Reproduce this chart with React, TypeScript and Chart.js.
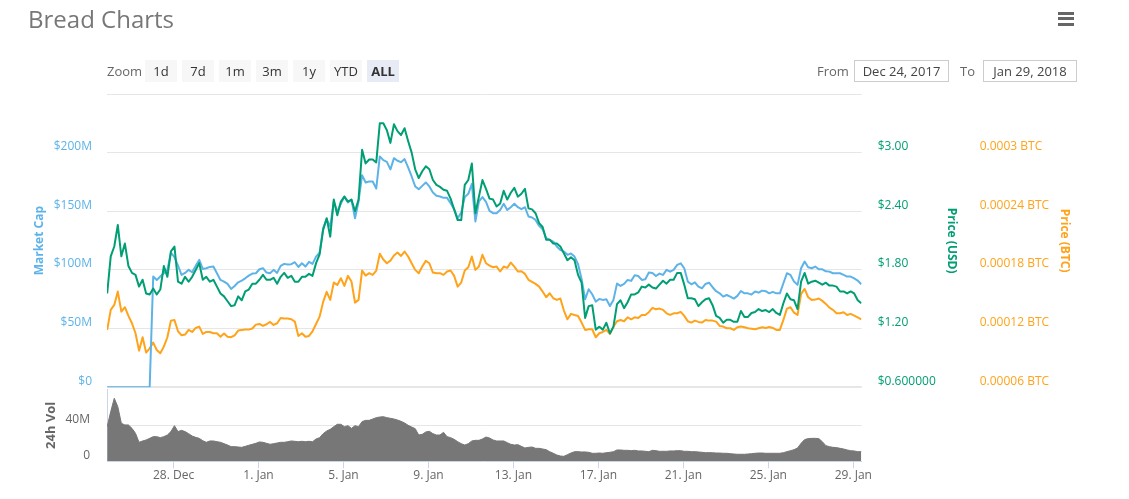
import React, { useEffect, useRef } from 'react';
import { Chart, registerables } from 'chart.js';

Chart.register(...registerables);
Chart.defaults.font.family = "'Open Sans', 'DejaVu Sans', sans-serif";

// time axis: days since Dec 24 2017 00:00
const SAMPLE_START_DAY = 0.875; // Dec 24 21:00
const SAMPLE_STEP_DAYS = 1 / 6; // 4 hours
const X_MIN = 0.866;
const X_MAX = 36.395;

const xTickDays = [4, 8, 12, 16, 20, 24, 28, 32, 36];
const xTickLabels = ['28. Dec', '1. Jan', '5. Jan', '9. Jan', '13. Jan', '17. Jan', '21. Jan', '25. Jan', '29. Jan'];

const capTicks = [0, 50, 100, 150, 200, 250];
const capTickLabels = ['$0', '$50M', '$100M', '$150M', '$200M', ''];
const usdTicks = [0.6, 1.2, 1.8, 2.4, 3.0, 3.6];
const usdTickLabels = ['$0.600000', '$1.20', '$1.80', '$2.40', '$3.00', ''];
const btcTicks = [60, 120, 180, 240, 300, 360]; // micro-BTC
const btcTickLabels = ['0.00006 BTC', '0.00012 BTC', '0.00018 BTC', '0.00024 BTC', '0.0003 BTC', ''];
const volTicks = [0, 40, 80];
const volTickLabels = ['0', '40M', ''];

const zoomButtons = ['1d', '7d', '1m', '3m', '1y', 'YTD', 'ALL'];
const fromDate = 'Dec 24, 2017';
const toDate = 'Jan 29, 2018';

// Market cap, $M
const marketCapM = [
  0, 0, 0, 0, 0, 0, 0, 0, 0, 0,
  0, 0, 0, 94.4, 91.5, 94.4, 97.2, 100.1, 114.8, 110.9,
  103.8, 95.8, 97.5, 100.1, 98.1, 103.5, 108.6, 100.9, 101.5, 102.6,
  102.9, 97.2, 91.5, 90.1, 88.1, 83.8, 86.4, 89.5, 91.0, 92.9,
  95.2, 96.9, 97.2, 100.6, 101.5, 97.8, 97.2, 100.1, 97.5, 103.5,
  105.2, 104.6, 104.9, 106.6, 102.6, 105.7, 102.9, 106.9, 105.2, 111.4,
  114.8, 135.6, 143.3, 137.0, 158.4, 149.8, 156.4, 162.6, 157.5, 159.8,
  144.1, 158.4, 180.8, 174.6, 175.4, 175.4, 169.4, 196.8, 193.6, 192.2,
  185.7, 195.3, 193.1, 191.9, 194.5, 187.4, 179.7, 171.2, 168.9, 171.7,
  174.6, 171.2, 166.0, 163.2, 162.6, 161.5, 161.5, 156.9, 151.8, 144.1,
  149.0, 162.1, 164.9, 173.4, 141.3, 158.4, 162.1, 158.1, 150.4, 148.4,
  148.4, 151.2, 156.4, 151.2, 153.5, 156.4, 153.5, 151.8, 153.5, 145.6,
  144.7, 142.7, 137.6, 134.8, 127.1, 125.7, 124.2, 120.0, 117.1, 115.7,
  112.9, 114.0, 111.4, 104.9, 92.4, 75.0, 83.6, 79.3, 73.0, 75.3,
  74.5, 75.0, 69.3, 74.5, 88.4, 86.4, 88.1, 91.5, 90.7, 95.5,
  94.9, 91.5, 92.1, 97.8, 97.5, 94.9, 96.9, 95.8, 100.1, 98.6,
  100.1, 104.3, 105.7, 101.5, 90.1, 87.8, 89.5, 85.8, 84.4, 88.1,
  89.2, 85.3, 81.9, 80.1, 77.3, 78.7, 77.3, 75.6, 77.9, 82.1,
  80.1, 80.1, 79.0, 81.6, 80.7, 82.4, 81.9, 80.1, 81.3, 80.1,
  80.1, 88.7, 97.2, 95.8, 90.1, 87.3, 101.5, 107.2, 102.3, 101.5,
  102.9, 100.6, 100.6, 98.9, 98.6, 97.2, 97.2, 97.2, 95.8, 94.4,
  94.4, 92.9, 91.0, 87.8,
];

// Price, USD
const priceUsd = [
  1.56, 1.94, 2.04, 2.26, 1.94, 2.07, 1.84, 1.77, 1.75, 1.63,
  1.70, 1.56, 1.55, 1.61, 1.55, 1.60, 1.84, 1.73, 1.99, 2.04,
  1.68, 1.66, 1.73, 1.68, 1.73, 1.80, 1.87, 1.70, 1.73, 1.68,
  1.70, 1.63, 1.56, 1.53, 1.48, 1.43, 1.44, 1.53, 1.49, 1.58,
  1.60, 1.66, 1.66, 1.70, 1.75, 1.70, 1.70, 1.72, 1.66, 1.73,
  1.77, 1.72, 1.74, 1.68, 1.68, 1.73, 1.73, 1.76, 1.74, 1.87,
  1.96, 2.21, 2.33, 2.14, 2.52, 2.36, 2.50, 2.55, 2.50, 2.52,
  2.40, 2.52, 3.03, 2.89, 2.93, 2.93, 2.90, 3.30, 3.30, 3.23,
  3.10, 3.29, 3.22, 3.18, 3.25, 3.12, 3.00, 2.83, 2.74, 2.81,
  2.86, 2.83, 2.72, 2.67, 2.65, 2.62, 2.61, 2.53, 2.42, 2.31,
  2.31, 2.67, 2.72, 2.89, 2.38, 2.55, 2.72, 2.63, 2.53, 2.52,
  2.45, 2.48, 2.61, 2.52, 2.59, 2.64, 2.55, 2.58, 2.63, 2.43,
  2.42, 2.38, 2.28, 2.24, 2.11, 2.11, 2.07, 2.07, 2.04, 1.97,
  1.90, 1.93, 1.90, 1.75, 1.67, 1.31, 1.43, 1.44, 1.19, 1.22,
  1.19, 1.26, 1.15, 1.22, 1.45, 1.49, 1.41, 1.47, 1.55, 1.55,
  1.57, 1.63, 1.62, 1.65, 1.62, 1.61, 1.65, 1.69, 1.66, 1.70,
  1.70, 1.77, 1.77, 1.65, 1.51, 1.51, 1.50, 1.43, 1.47, 1.50,
  1.51, 1.44, 1.33, 1.31, 1.26, 1.29, 1.29, 1.27, 1.27, 1.38,
  1.32, 1.32, 1.36, 1.37, 1.40, 1.38, 1.39, 1.37, 1.40, 1.36,
  1.34, 1.46, 1.56, 1.50, 1.49, 1.40, 1.68, 1.77, 1.66, 1.68,
  1.69, 1.67, 1.65, 1.67, 1.64, 1.64, 1.63, 1.58, 1.58, 1.56,
  1.58, 1.56, 1.49, 1.46,
];

// Price, micro-BTC (1e-6 BTC)
const priceBtcMicro = [
  118.7, 139.2, 144.3, 157.9, 137.4, 141.9, 133.0, 125.5, 115.3, 97.5,
  111.2, 95.5, 99.9, 105.7, 98.2, 94.8, 101.6, 111.2, 128.2, 128.9,
  117.3, 113.2, 113.9, 118.7, 116.6, 120.7, 122.1, 114.6, 116.6, 116.6,
  115.3, 115.3, 111.8, 115.0, 111.8, 111.2, 113.2, 118.0, 118.7, 119.0,
  119.0, 120.1, 124.1, 124.8, 122.8, 124.5, 126.9, 123.8, 125.5, 130.9,
  130.3, 130.3, 129.6, 127.2, 112.5, 115.3, 111.8, 112.5, 117.3, 124.8,
  132.3, 147.3, 157.6, 149.4, 167.1, 164.7, 171.6, 163.7, 174.0, 168.2,
  146.6, 149.4, 179.4, 174.3, 176.7, 175.0, 179.4, 196.5, 190.7, 186.9,
  189.6, 194.8, 197.8, 194.4, 198.9, 193.8, 186.9, 180.1, 176.7, 183.5,
  189.3, 186.9, 177.4, 176.7, 176.7, 175.0, 178.4, 179.4, 174.0, 163.0,
  167.1, 179.4, 182.8, 193.8, 180.1, 183.5, 195.5, 186.9, 184.5, 182.8,
  183.5, 178.4, 183.5, 182.2, 187.6, 183.5, 178.4, 178.7, 176.0, 169.9,
  167.8, 165.8, 163.0, 157.9, 152.1, 156.2, 151.1, 149.4, 150.8, 138.5,
  129.6, 135.1, 134.0, 133.0, 126.2, 118.7, 119.4, 119.4, 111.2, 115.3,
  116.6, 118.7, 114.6, 122.1, 127.6, 128.9, 127.6, 131.6, 129.6, 131.6,
  130.9, 134.0, 134.0, 136.8, 141.2, 139.8, 140.5, 139.2, 135.7, 134.0,
  135.7, 135.7, 137.1, 133.0, 127.6, 126.2, 128.2, 126.9, 126.2, 128.9,
  128.2, 128.2, 127.2, 122.8, 122.1, 120.4, 120.4, 118.7, 121.4, 122.1,
  121.4, 120.4, 120.0, 119.4, 120.4, 121.4, 120.7, 121.7, 120.7, 118.7,
  118.7, 128.9, 140.5, 141.9, 136.4, 134.0, 155.5, 160.6, 152.1, 149.4,
  149.7, 150.8, 148.4, 145.3, 141.5, 139.2, 135.7, 135.7, 136.8, 134.0,
  135.1, 133.4, 131.6, 129.6,
];

// 24h volume, $M
const volumeM = [
  38.5, 55.2, 70.0, 60.7, 42.2, 40.4, 40.4, 36.6, 31.1, 21.1,
  22.6, 23.7, 25.5, 27.4, 27.4, 26.3, 27.4, 29.2, 33.0, 39.6,
  33.0, 34.4, 33.0, 30.7, 28.1, 26.6, 25.5, 22.9, 21.1, 22.6,
  22.6, 21.8, 21.1, 19.6, 18.1, 16.3, 16.3, 15.9, 15.5, 16.6,
  17.8, 18.9, 20.0, 21.5, 21.1, 20.0, 18.9, 19.6, 20.3, 21.1,
  21.1, 21.8, 22.6, 22.2, 21.8, 22.2, 21.8, 22.2, 21.8, 24.8,
  26.3, 30.7, 33.7, 35.5, 38.5, 41.1, 41.1, 38.5, 39.6, 36.6,
  39.6, 38.5, 44.1, 45.5, 45.5, 47.0, 48.5, 49.2, 49.6, 48.5,
  47.8, 47.0, 45.9, 44.4, 42.6, 40.0, 38.1, 36.3, 29.2, 30.0,
  32.6, 33.3, 30.7, 29.2, 29.2, 32.2, 27.4, 26.3, 24.4, 21.8,
  19.6, 18.1, 19.6, 22.6, 23.3, 23.3, 24.8, 27.0, 25.9, 23.7,
  22.6, 22.6, 22.6, 20.7, 18.9, 18.1, 18.5, 16.6, 14.8, 15.5,
  15.9, 14.4, 14.4, 13.7, 12.9, 10.7, 8.9, 7.0, 5.9, 5.5,
  7.4, 9.2, 10.7, 10.7, 10.4, 10.4, 10.0, 8.9, 8.9, 9.2,
  8.9, 9.6, 10.0, 10.7, 12.6, 12.6, 12.2, 12.2, 11.8, 12.2,
  11.5, 11.5, 11.1, 10.7, 12.2, 11.8, 11.1, 11.1, 11.1, 11.5,
  11.5, 11.8, 11.8, 11.1, 11.1, 10.7, 10.7, 10.4, 10.0, 9.6,
  9.6, 9.6, 9.2, 9.2, 8.9, 8.9, 8.5, 8.1, 7.8, 7.8,
  7.8, 8.1, 8.5, 8.9, 9.2, 9.2, 8.9, 8.9, 8.9, 8.9,
  8.9, 9.6, 10.7, 11.8, 12.9, 14.8, 20.0, 24.1, 25.2, 25.5,
  25.5, 25.2, 21.8, 17.4, 16.3, 15.5, 15.2, 14.4, 13.7, 12.6,
  11.8, 11.5, 10.7, 10.7,
];

const BLUE = '#5db3e8';
const GREEN = '#009e73';
const ORANGE = '#ffa31a';
const GRID = '#e6e6e6';
const AXIS_LINE = '#ccd6eb';
const VOL_GRAY = '#777777';
const HTML_FONT = "'Open Sans', sans-serif";

const fixWidth = (w: number) => (s: any) => {
  s.width = w;
  s.paddingTop = 0;
  s.paddingBottom = 0;
};

export default function App() {
  const mainRef = useRef<HTMLCanvasElement>(null);
  const volRef = useRef<HTMLCanvasElement>(null);

  useEffect(() => {
    const times = priceUsd.map((_, i) => SAMPLE_START_DAY + i * SAMPLE_STEP_DAYS);
    const pts = (arr: number[]) => arr.map((v, i) => ({ x: times[i], y: v }));
    const lineDs = (label: string, data: number[], axis: string, color: string) => ({
      label,
      data: pts(data),
      yAxisID: axis,
      borderColor: color,
      backgroundColor: color,
      borderWidth: 2,
      pointRadius: 0,
      tension: 0,
      fill: false,
      borderJoinStyle: 'round' as const,
    });
    const tickFont = { size: 12 };
    const titleFont = { size: 12, weight: 'bold' as const };

    const main = new Chart(mainRef.current!, {
      type: 'line',
      data: {
        datasets: [
          lineDs('Price (USD)', priceUsd, 'yUsd', GREEN),
          lineDs('Market Cap', marketCapM, 'yCap', BLUE),
          lineDs('Price (BTC)', priceBtcMicro, 'yBtc', ORANGE),
        ],
      },
      options: {
        responsive: false,
        animation: false,
        events: [],
        layout: { padding: { top: 94, bottom: 12.7, left: 0, right: 0 } },
        plugins: { legend: { display: false }, tooltip: { enabled: false } },
        scales: {
          x: { type: 'linear', min: X_MIN, max: X_MAX, display: false },
          yCap: {
            type: 'linear',
            position: 'left',
            min: 0,
            max: 250,
            afterBuildTicks: (s: any) => { s.ticks = capTicks.map((v) => ({ value: v })); },
            afterFit: fixWidth(107),
            ticks: {
              labelOffset: -6,
              padding: 15,
              color: BLUE,
              font: tickFont,
              callback: (_v: any, i: number) => capTickLabels[i],
            },
            grid: {
              color: GRID,
              lineWidth: (ctx: any) => (ctx.tick && ctx.tick.value === 0 ? 2 : 1),
              drawTicks: false,
            },
            border: { display: false },
            title: { display: true, text: 'Market Cap', color: BLUE, font: titleFont, padding: { top: 32, bottom: 0 } },
          },
          yUsd: {
            type: 'linear',
            position: 'right',
            min: 0.6,
            max: 3.6,
            afterBuildTicks: (s: any) => { s.ticks = usdTicks.map((v) => ({ value: v })); },
            afterFit: fixWidth(110),
            ticks: {
              labelOffset: -6,
              padding: 16,
              color: GREEN,
              font: tickFont,
              callback: (_v: any, i: number) => usdTickLabels[i],
            },
            grid: { display: false, drawTicks: false },
            border: { display: false },
            title: { display: true, text: 'Price (USD)', color: GREEN, font: titleFont, padding: { top: 13, bottom: 0 } },
          },
          yBtc: {
            type: 'linear',
            position: 'right',
            min: 60,
            max: 360,
            afterBuildTicks: (s: any) => { s.ticks = btcTicks.map((v) => ({ value: v })); },
            afterFit: fixWidth(157.3),
            ticks: {
              labelOffset: -6,
              padding: 8,
              color: ORANGE,
              font: tickFont,
              callback: (_v: any, i: number) => btcTickLabels[i],
            },
            grid: { display: false, drawTicks: false },
            border: { display: false },
            title: { display: true, text: 'Price (BTC)', color: ORANGE, font: titleFont, padding: { top: 57, bottom: 0 } },
          },
        },
      } as any,
    });

    const vol = new Chart(volRef.current!, {
      type: 'line',
      data: {
        datasets: [
          {
            label: '24h Vol',
            data: pts(volumeM),
            borderColor: VOL_GRAY,
            backgroundColor: VOL_GRAY,
            borderWidth: 1,
            pointRadius: 0,
            tension: 0,
            fill: 'origin',
          },
        ],
      },
      options: {
        responsive: false,
        animation: false,
        events: [],
        layout: { padding: { top: 9.3, bottom: 0, left: 0, right: 267.3 } },
        plugins: { legend: { display: false }, tooltip: { enabled: false } },
        scales: {
          x: {
            type: 'linear',
            position: 'bottom',
            min: X_MIN,
            max: X_MAX,
            afterBuildTicks: (s: any) => { s.ticks = xTickDays.map((v) => ({ value: v })); },
            afterFit: (s: any) => { s.height = 37.7; s.paddingLeft = 0; s.paddingRight = 0; },
            ticks: {
              autoSkip: false,
              maxRotation: 0,
              padding: 0,
              color: '#666666',
              font: tickFont,
              callback: (_v: any, i: number) => xTickLabels[i],
            },
            grid: { drawOnChartArea: false, drawTicks: true, tickLength: 7, color: AXIS_LINE, tickColor: AXIS_LINE },
            border: { display: true, color: AXIS_LINE },
          },
          y: {
            type: 'linear',
            position: 'left',
            min: 0,
            max: 80,
            afterBuildTicks: (s: any) => { s.ticks = volTicks.map((v) => ({ value: v })); },
            afterFit: fixWidth(107),
            ticks: {
              labelOffset: -6,
              padding: 17,
              color: '#666666',
              font: tickFont,
              callback: (_v: any, i: number) => volTickLabels[i],
            },
            grid: {
              color: (ctx: any) => (ctx.tick && ctx.tick.value === 40 ? GRID : 'rgba(0,0,0,0)'),
              drawTicks: false,
            },
            border: { display: true, color: AXIS_LINE },
            title: { display: true, text: '24h Vol', color: '#666666', font: { size: 13, weight: 'bold' }, padding: { top: 43, bottom: 0 } },
          },
        },
      } as any,
    });

    return () => {
      main.destroy();
      vol.destroy();
    };
  }, []);

  const btnLefts = [145, 182, 219, 256, 293, 330, 367];

  return (
    <div style={{ position: 'absolute', left: 0, top: 0, width: 1129, height: 499, background: '#ffffff', overflow: 'hidden', fontFamily: HTML_FONT }}>
      <canvas ref={mainRef} width={1129} height={400} style={{ position: 'absolute', left: 0, top: 0, width: 1129, height: 400 }} />
      <canvas ref={volRef} width={1129} height={119} style={{ position: 'absolute', left: 0, top: 380, width: 1129, height: 119 }} />
      <div style={{ position: 'absolute', left: 28, top: 5, fontSize: 24, lineHeight: '28px', color: '#777777', whiteSpace: 'nowrap' }}>Bread Charts</div>
      {[13, 18.5, 24].map((t, i) => (
        <div key={i} style={{ position: 'absolute', left: 1058, top: t - 1.5, width: 16, height: 3, background: '#666666' }} />
      ))}
      <div style={{ position: 'absolute', left: 107, top: 60, height: 22, lineHeight: '22px', fontSize: 13, color: '#666666' }}>Zoom</div>
      {zoomButtons.map((b, i) => (
        <div
          key={b}
          style={{
            position: 'absolute',
            left: btnLefts[i],
            top: 60,
            width: 32,
            height: 22,
            lineHeight: '22px',
            textAlign: 'center',
            fontSize: 13,
            fontWeight: b === 'ALL' ? 700 : 400,
            color: '#333333',
            background: b === 'ALL' ? '#e6ebf5' : '#f7f7f7',
          }}
        >
          {b}
        </div>
      ))}
      <div style={{ position: 'absolute', left: 817, top: 60, height: 22, lineHeight: '22px', fontSize: 13, color: '#666666' }}>From</div>
      <div style={{ position: 'absolute', left: 854, top: 60, width: 95, height: 22, boxSizing: 'border-box', border: '1px solid #cccccc', lineHeight: '20px', textAlign: 'center', fontSize: 13, color: '#444444' }}>{fromDate}</div>
      <div style={{ position: 'absolute', left: 960, top: 60, height: 22, lineHeight: '22px', fontSize: 13, color: '#666666' }}>To</div>
      <div style={{ position: 'absolute', left: 983, top: 60, width: 94, height: 22, boxSizing: 'border-box', border: '1px solid #cccccc', lineHeight: '20px', textAlign: 'center', fontSize: 13, color: '#444444' }}>{toDate}</div>
    </div>
  );
}
